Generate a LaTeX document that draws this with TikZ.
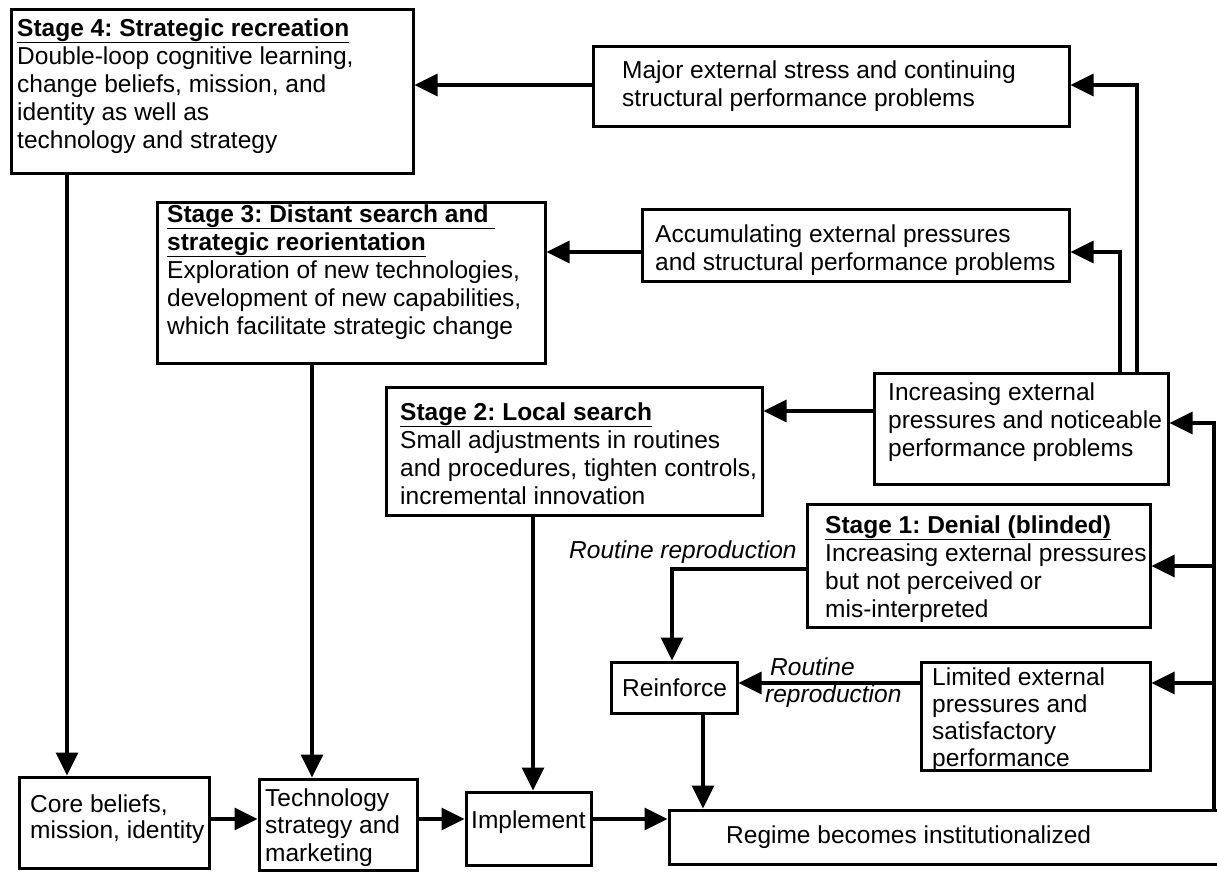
\documentclass[tikz,border=0pt]{standalone}
\usepackage{fontspec}
\setmainfont{Liberation Sans}
\usetikzlibrary{arrows.meta,fit}
\frenchspacing
\begin{document}
\begin{tikzpicture}[x=1pt,y=-1pt,
  box/.style={draw, line width=3pt, inner sep=0pt},
  txt/.style={anchor=base west, inner sep=0pt, align=left, font=\fontsize{24.5}{28}\selectfont\frenchspacing},
  lbl/.style={anchor=base west, inner sep=0pt, font=\fontsize{24.5}{28}\selectfont\itshape},
  arr/.style={line width=3.2pt, -{Triangle[length=23pt,width=22pt]}},
]
\useasboundingbox (0,0) rectangle (1217,871);
% boxes
\node[box, fit={(11,9)(413,173)}] (s4) {};
\node[box, fit={(593,46)(1069,126)}] (maj) {};
\node[box, fit={(157,202)(545,363)}] (s3) {};
\node[box, fit={(642,209)(1069,281)}] (acc) {};
\node[box, fit={(874,373)(1168,484)}] (inc) {};
\node[box, fit={(386,387)(762,515)}] (s2) {};
\node[box, fit={(807,504)(1150,627)}] (s1) {};
\node[box, fit={(611,662)(737,713)}] (rein) {};
\node[box, fit={(921,662)(1150,770)}] (lim) {};
\node[box, fit={(19,777)(209,868)}] (core) {};
\node[box, fit={(259,779)(417,870)}] (tech) {};
\node[box, fit={(466,792)(591,865)}] (impl) {};
\node[box, fit={(669,810)(1240,864)}] (reg) {};
% texts (anchor = baseline of the last line)
\node[txt] (t4) at (17,148) {\underline{\textbf{Stage 4: Strategic recreation}}\\Double-loop cognitive learning,\\change beliefs, mission, and\\identity as well as\\technology and strategy};
\node[txt] (tmaj) at (622,106) {Major external stress and continuing\\structural performance problems};
\node[txt] (t3) at (167,334) {\underline{\textbf{Stage 3: Distant search and\ }}\\\underline{\textbf{strategic reorientation}}\\Exploration of new technologies,\\development of new capabilities,\\which facilitate strategic change};
\node[txt] (tacc) at (655,270) {Accumulating external pressures\\and structural performance problems};
\node[txt] (tinc) at (888,456) {Increasing external\\pressures and noticeable\\performance problems};
\node[txt] (t2) at (400,504) {\underline{\textbf{Stage 2: Local search}}\\Small adjustments in routines\\and procedures, tighten controls,\\incremental innovation};
\node[txt] (t1) at (825,617) {\underline{\textbf{Stage 1: Denial (blinded)}}\\Increasing external pressures\\but not perceived or\\mis-interpreted};
\node[txt, font=\fontsize{24.5}{27}\selectfont] (tlim) at (932,766) {Limited external\\pressures and\\satisfactory\\performance};
\node[txt] (trein) at (622,696) {Reinforce};
\node[txt, font=\fontsize{24.5}{26}\selectfont] (tcore) at (30,838) {Core beliefs,\\mission, identity};
\node[txt, font=\fontsize{24.5}{27.5}\selectfont] (ttech) at (265,861) {Technology\\strategy and\\marketing};
\node[txt] (timpl) at (471,828) {Implement};
\node[txt] (treg) at (726,843) {Regime becomes institutionalized};
\node[lbl] (lrr) at (569,558) {Routine reproduction};
\node[lbl] (lr1) at (770,675) {Routine};
\node[lbl] (lr2) at (765,702) {reproduction};
% helper coordinates
\coordinate (u1) at (1137,85);
\coordinate (u2) at (1120,252);
\coordinate (u3) at (0,411);
\coordinate (r0) at (1214,423);
\coordinate (r1) at (1214,566);
\coordinate (r2) at (1214,683);
\coordinate (k) at (672,569);
\coordinate (m) at (703,0);
\coordinate (v4) at (67,0);
\coordinate (v3) at (312,0);
\coordinate (v2) at (533,0);
\coordinate (h) at (0,819);
% connectors
\draw[arr] (maj.west |- u1) -- (s4.east |- u1);
\draw[arr] (inc.north -| u1) |- (maj.east |- u1);
\draw[arr] (inc.north -| u2) |- (acc.east |- u2);
\draw[arr] (acc.west |- u2) -- (s3.east |- u2);
\draw[arr] (inc.west |- u3) -- (s2.east |- u3);
\draw[arr] (reg.north -| r0) -- (r0) -- (inc.east |- r0);
\draw[arr] (r1) -- (s1.east |- r1);
\draw[arr] (r2) -- (lim.east |- r2);
\draw[arr] (s1.west |- k) -| (rein.north -| k);
\draw[arr] (lim.west |- r2) -- (rein.east |- r2);
\draw[arr] (rein.south -| m) -- (reg.north -| m);
\draw[arr] (s4.south -| v4) -- (core.north -| v4);
\draw[arr] (s3.south -| v3) -- (tech.north -| v3);
\draw[arr] (s2.south -| v2) -- (impl.north -| v2);
\draw[arr] (core.east |- h) -- (tech.west |- h);
\draw[arr] (tech.east |- h) -- (impl.west |- h);
\draw[arr] (impl.east |- h) -- (reg.west |- h);
\end{tikzpicture}
\end{document}
